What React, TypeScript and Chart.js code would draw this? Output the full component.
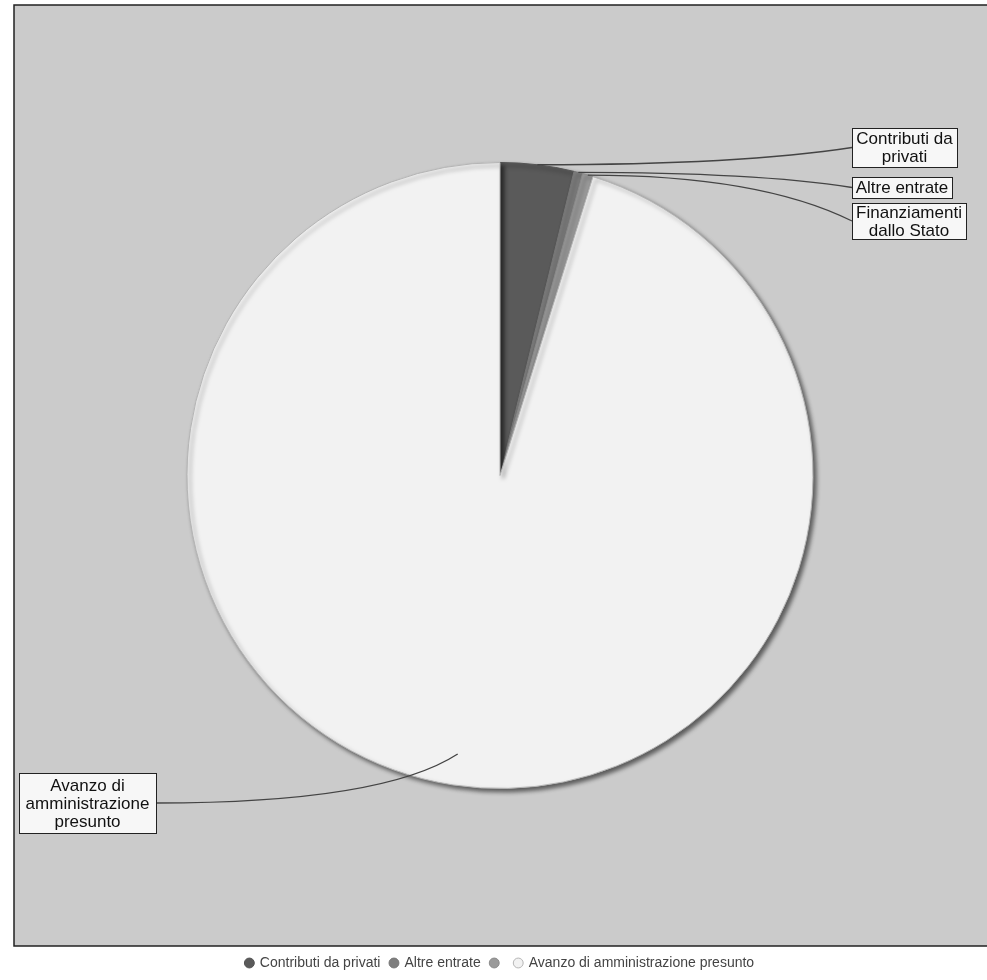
import React, { useEffect, useRef } from "react";
import { Chart, registerables } from "chart.js";

Chart.register(...registerables);

// ---- data ----
const categories: string[] = [
  "Contributi da privati",
  "Altre entrate",
  "Finanziamenti dallo Stato",
  "Avanzo di amministrazione presunto",
];
const values: number[] = [3.8, 0.45, 0.55, 95.2];
const legendTexts: string[] = [
  "Contributi da privati",
  "Altre entrate",
  "",
  "Avanzo di amministrazione presunto",
];
const calloutTexts: string[][] = [
  ["Contributi da", "privati"],
  ["Altre entrate"],
  ["Finanziamenti", "dallo Stato"],
  ["Avanzo di", "amministrazione", "presunto"],
];

// ---- styling ----
const sliceColors = ["#5a5a5a", "#7e7e7e", "#9a9a9a", "#f2f2f2"];
const sliceBorders = ["#555555", "#777777", "#8a8a8a", "#b5b5b5"];
const panelColor = "#cbcbcb";

// callout box placement (annotation layout, not data)
const calloutBoxes = [
  { left: 852, top: 128, width: 105, height: 39, startFrac: 1.0, side: "right" },
  { left: 852, top: 177, width: 100, height: 21, startFrac: 1.0, side: "right" },
  { left: 852, top: 203, width: 114, height: 36, startFrac: 1.0, side: "right" },
  { left: 19, top: 773, width: 137, height: 60, startFrac: 0.9, side: "left" },
];

const panelPlugin = {
  id: "panel",
  beforeDraw(chart: any) {
    const { ctx, chartArea } = chart;
    ctx.save();
    ctx.fillStyle = panelColor;
    ctx.fillRect(chartArea.left, chartArea.top, chart.width - chartArea.left + 5, chartArea.bottom - chartArea.top);
    ctx.strokeStyle = "#222";
    ctx.lineWidth = 1.5;
    ctx.beginPath();
    ctx.moveTo(chart.width + 5, chartArea.top);
    ctx.lineTo(chartArea.left, chartArea.top);
    ctx.lineTo(chartArea.left, chartArea.bottom);
    ctx.lineTo(chart.width + 5, chartArea.bottom);
    ctx.stroke();
    ctx.restore();
  },
  beforeDatasetsDraw(chart: any) {
    const ctx = chart.ctx;
    ctx.save();
    ctx.shadowColor = "rgba(0,0,0,0.55)";
    ctx.shadowOffsetX = 3;
    ctx.shadowOffsetY = 3;
    ctx.shadowBlur = 4;
  },
  afterDatasetsDraw(chart: any) {
    chart.ctx.restore();
  },
};

const calloutPlugin = {
  id: "callouts",
  afterDatasetsDraw(chart: any) {
    const ctx = chart.ctx;
    const meta = chart.getDatasetMeta(0);
    ctx.save();
    ctx.shadowColor = "transparent";
    meta.data.forEach((arc: any, i: number) => {
      const p = arc.getProps(["x", "y", "startAngle", "endAngle", "outerRadius"], true);
      const mid = (p.startAngle + p.endAngle) / 2;
      const b = calloutBoxes[i];
      const r = p.outerRadius * b.startFrac;
      const sx = p.x + Math.cos(mid) * r;
      const sy = p.y + Math.sin(mid) * r;
      const ex = b.side === "right" ? b.left : b.left + b.width;
      const ey = b.top + b.height / 2;
      let cx: number, cy: number;
      if (b.side === "right") {
        cx = ex - 0.35 * (ex - sx);
        cy = sy;
      } else {
        cx = sx - 0.25 * Math.abs(ex - sx);
        cy = ey;
      }
      ctx.strokeStyle = "#444";
      ctx.lineWidth = 1.3;
      ctx.beginPath();
      ctx.moveTo(sx, sy);
      ctx.quadraticCurveTo(cx, cy, ex, ey);
      ctx.stroke();

      ctx.fillStyle = "#f7f7f7";
      ctx.fillRect(b.left, b.top, b.width, b.height);
      ctx.strokeStyle = "#222";
      ctx.lineWidth = 1;
      ctx.strokeRect(b.left + 0.5, b.top + 0.5, b.width, b.height);

      const lines = calloutTexts[i];
      const lh = 18;
      ctx.fillStyle = "#111";
      ctx.font = '17px "Liberation Sans", Arial, sans-serif';
      ctx.textAlign = "center";
      ctx.textBaseline = "middle";
      const cxText = b.left + b.width / 2;
      const y0 = ey - ((lines.length - 1) * lh) / 2;
      lines.forEach((t, k) => ctx.fillText(t, cxText, y0 + k * lh + 1));
    });
    ctx.restore();
  },
};

export default function App() {
  const ref = useRef<HTMLCanvasElement | null>(null);

  useEffect(() => {
    if (!ref.current) return;
    const chart = new Chart(ref.current, {
      type: "pie",
      data: {
        labels: categories,
        datasets: [
          {
            data: values,
            backgroundColor: sliceColors,
            borderColor: sliceBorders,
            borderWidth: 1,
            radius: 313,
          } as any,
        ],
      },
      options: {
        animation: false,
        responsive: false,
        devicePixelRatio: 1,
        layout: { padding: { top: 5, left: 14, right: 1, bottom: 0 } },
        plugins: {
          title: { display: false },
          tooltip: { enabled: false },
          legend: {
            display: true,
            position: "bottom",
            labels: {
              usePointStyle: true,
              pointStyle: "circle",
              boxWidth: 7,
              boxHeight: 7,
              padding: 10,
              color: "#444",
              font: { family: '"Liberation Sans", Arial, sans-serif', size: 14 },
              generateLabels: (c: any) => {
                const base = (Chart as any).overrides.pie.plugins.legend.labels.generateLabels(c);
                return base.map((l: any, i: number) => ({ ...l, text: legendTexts[i] }));
              },
            },
          },
        },
      },
      plugins: [panelPlugin, calloutPlugin],
    });
    return () => chart.destroy();
  }, []);

  return (
    <div style={{ position: "absolute", left: 0, top: 0, width: 987, height: 980, background: "#fff" }}>
      <canvas ref={ref} width={987} height={980} style={{ display: "block" }} />
    </div>
  );
}
